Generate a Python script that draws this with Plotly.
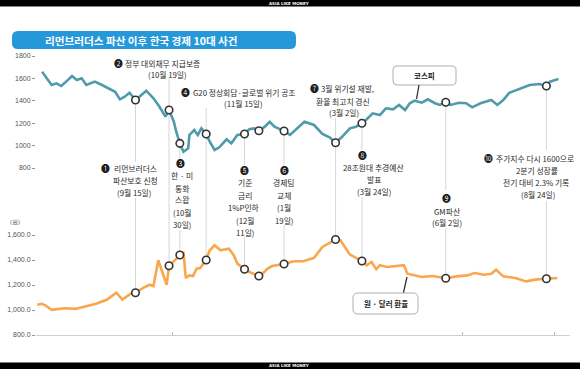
import plotly.graph_objects as go
import pandas as pd

W, H = 580, 369

# ---------------- data ----------------
kospi_dates = [
    "2008-06-29", "2008-07-07", "2008-07-11", "2008-07-15", "2008-07-20", "2008-07-24",
    "2008-07-28", "2008-08-01", "2008-08-05", "2008-08-12", "2008-08-18", "2008-08-24",
    "2008-08-29", "2008-09-02", "2008-09-06", "2008-09-10", "2008-09-15", "2008-09-19",
    "2008-09-24", "2008-09-30", "2008-10-05", "2008-10-10", "2008-10-13", "2008-10-17",
    "2008-10-19", "2008-10-22", "2008-10-25", "2008-10-29", "2008-10-30", "2008-11-03",
    "2008-11-06", "2008-11-09", "2008-11-13", "2008-11-16", "2008-11-20", "2008-11-24",
    "2008-11-30", "2008-12-04", "2008-12-09", "2008-12-15", "2008-12-19", "2008-12-23",
    "2008-12-27", "2009-01-01", "2009-01-05", "2009-01-09", "2009-01-17", "2009-01-22",
    "2009-01-29", "2009-02-03", "2009-02-11", "2009-02-18", "2009-02-24", "2009-03-01",
    "2009-03-06", "2009-03-13", "2009-03-18", "2009-03-23", "2009-03-27", "2009-04-01",
    "2009-04-07", "2009-04-12", "2009-04-18", "2009-04-23", "2009-04-28", "2009-05-02",
    "2009-05-06", "2009-05-12", "2009-05-17", "2009-05-23", "2009-05-27", "2009-06-01",
    "2009-06-05", "2009-06-12", "2009-06-18", "2009-06-23", "2009-06-30", "2009-07-09",
    "2009-07-14", "2009-07-19", "2009-07-24", "2009-08-02", "2009-08-10", "2009-08-18",
    "2009-08-24", "2009-08-27", "2009-09-02", "2009-09-03",
]
kospi_values = [
    1660, 1541, 1556, 1532, 1580, 1621,
    1586, 1601, 1541, 1571, 1541, 1510,
    1481, 1413, 1437, 1472, 1407, 1443,
    1490, 1422, 1347, 1258, 1318, 1213,
    1124, 1020, 945, 976, 1095, 1139,
    1095, 1154, 1104, 1035, 961, 985,
    1056, 1021, 1095, 1104, 1146, 1154,
    1133, 1169, 1213, 1169, 1130, 1095,
    1169, 1213, 1184, 1104, 1074, 1026,
    1074, 1154, 1169, 1199, 1235, 1288,
    1273, 1333, 1324, 1363, 1318, 1378,
    1401, 1383, 1413, 1378, 1363, 1387,
    1363, 1383, 1378, 1342, 1378, 1407,
    1363, 1407, 1472, 1512, 1541, 1550,
    1532, 1571, 1592, 1586,
]

fx_dates = [
    "2008-06-25", "2008-06-29", "2008-07-02", "2008-07-07", "2008-07-18", "2008-07-27",
    "2008-08-04", "2008-08-13", "2008-08-22", "2008-08-30", "2008-09-04", "2008-09-11",
    "2008-09-15", "2008-09-21", "2008-09-27", "2008-09-30", "2008-10-04", "2008-10-08",
    "2008-10-11", "2008-10-13", "2008-10-17", "2008-10-22", "2008-10-25", "2008-10-27",
    "2008-10-30", "2008-11-02", "2008-11-05", "2008-11-08", "2008-11-13", "2008-11-16",
    "2008-11-20", "2008-11-25", "2008-12-02", "2008-12-06", "2008-12-09", "2008-12-15",
    "2008-12-19", "2008-12-27", "2008-12-30", "2009-01-03", "2009-01-07", "2009-01-17",
    "2009-01-25", "2009-02-02", "2009-02-11", "2009-02-18", "2009-02-22", "2009-03-01",
    "2009-03-05", "2009-03-09", "2009-03-13", "2009-03-23", "2009-03-27", "2009-03-31",
    "2009-04-04", "2009-04-07", "2009-04-13", "2009-04-19", "2009-04-27", "2009-04-30",
    "2009-05-06", "2009-05-12", "2009-05-21", "2009-06-01", "2009-06-10", "2009-06-19",
    "2009-06-25", "2009-07-03", "2009-07-09", "2009-07-13", "2009-07-19", "2009-07-29",
    "2009-08-07", "2009-08-16", "2009-08-24", "2009-09-02",
]
fx_values = [
    1042, 1050, 1036, 1001, 1014, 1009,
    1028, 1050, 1082, 1138, 1084, 1130,
    1138, 1175, 1202, 1191, 1398, 1290,
    1202, 1354, 1390, 1440, 1465, 1256,
    1277, 1272, 1330, 1336, 1400, 1478,
    1518, 1478, 1491, 1438, 1371, 1326,
    1304, 1272, 1290, 1330, 1352, 1368,
    1390, 1390, 1417, 1505, 1524, 1564,
    1558, 1497, 1443, 1392, 1358, 1384,
    1326, 1358, 1344, 1350, 1358, 1290,
    1277, 1264, 1272, 1254, 1269, 1277,
    1296, 1282, 1290, 1322, 1269, 1256,
    1229, 1245, 1250, 1256,
]

# marked points (shown as open circles)
event_dates = ["2008-09-15", "2008-10-13", "2008-10-22", "2008-11-13", "2008-12-15",
               "2008-12-27", "2009-01-17", "2009-03-01", "2009-03-23", "2009-06-01",
               "2009-08-24"]
event_kospi = [1407, 1318, 1020, 1104, 1104, 1133, 1130, 1026, 1199, 1387, 1532]
event_fx = [1138, 1354, 1440, 1400, 1326, 1272, 1368, 1564, 1392, 1254, 1250]

kospi_tickvals = [800, 1000, 1200, 1400, 1600, 1800]
kospi_ticktext = ["800", "1000", "1200", "1400", "1600", "1800"]
fx_tickvals = [800, 1000, 1200, 1400, 1600]
fx_ticktext = ["800.0", "1,000.0", "1,200.0", "1,400.0", "1,600.0"]
x_tickvals = ["2008-10-16", "2009-06-15", "2009-08-31"]

title_text = "리먼브러더스 파산 이후 한국 경제 10대 사건"

# ---------------- layout helpers ----------------
FONT = "Noto Sans CJK KR"
TICKFONT = "Liberation Sans Narrow, Liberation Sans, Arial"

base = pd.Timestamp("2008-09-15")
ppd = 1.198           # pixels per day
xpix_base = 135.5
x_left, x_right = 36, 570
x0 = base + pd.Timedelta(days=(x_left - xpix_base) / ppd)
x1 = base + pd.Timedelta(days=(x_right - xpix_base) / ppd)

top_range = [700, 1850]
top_dom = [1 - 179.2 / H, 1 - 50.4 / H]
bot_range = [800, 1650]
bot_dom = [1 - 335 / H, 1 - 228.75 / H]


def py(p):
    return 1 - p / H


def px(p):
    return p / W


def top_paper(v):
    return top_dom[0] + (v - top_range[0]) / (top_range[1] - top_range[0]) * (top_dom[1] - top_dom[0])


def bot_paper(v):
    return bot_dom[0] + (v - bot_range[0]) / (bot_range[1] - bot_range[0]) * (bot_dom[1] - bot_dom[0])


def rrect(xa, ya, xb, yb, r):
    def P(x, y):
        return f"{px(x):.5f},{py(y):.5f}"
    return (f"M{P(xa + r, ya)} L{P(xb - r, ya)} Q{P(xb, ya)} {P(xb, ya + r)} "
            f"L{P(xb, yb - r)} Q{P(xb, yb)} {P(xb - r, yb)} L{P(xa + r, yb)} "
            f"Q{P(xa, yb)} {P(xa, yb - r)} L{P(xa, ya + r)} Q{P(xa, ya)} {P(xa + r, ya)} Z")


def ann(text, x, y, size=7.8, color="#2a2a2a", xanchor="center", family=FONT):
    return dict(text=text, x=px(x), y=py(y), xref="paper", yref="paper",
                showarrow=False, xanchor=xanchor, yanchor="middle", borderpad=0,
                font=dict(family=family, size=size, color=color))


def num(text, x, y):
    return ann(text, x, y, size=8.8, color="#1e1e1e")


fig = go.Figure()

fig.add_trace(go.Scatter(x=kospi_dates, y=kospi_values, mode="lines",
                         line=dict(color="#4f9bab", width=2.6), xaxis="x", yaxis="y",
                         hoverinfo="skip"))
fig.add_trace(go.Scatter(x=fx_dates, y=fx_values, mode="lines",
                         line=dict(color="#f9a64c", width=2.6), xaxis="x", yaxis="y2",
                         hoverinfo="skip"))
marker_style = dict(size=7.5, color="white", line=dict(color="#333", width=1.6))
fig.add_trace(go.Scatter(x=event_dates, y=event_kospi, mode="markers",
                         marker=marker_style, xaxis="x", yaxis="y", hoverinfo="skip"))
fig.add_trace(go.Scatter(x=event_dates, y=event_fx, mode="markers",
                         marker=marker_style, xaxis="x", yaxis="y2", hoverinfo="skip"))

shapes = []
# black bars
shapes.append(dict(type="rect", xref="paper", yref="paper", x0=0, x1=1, y0=py(6.5), y1=1,
                   fillcolor="black", line=dict(width=0), layer="above"))
shapes.append(dict(type="rect", xref="paper", yref="paper", x0=0, x1=1, y0=0, y1=py(362.5),
                   fillcolor="black", line=dict(width=0), layer="above"))
# title bar
shapes.append(dict(type="path", xref="paper", yref="paper", path=rrect(12, 31, 296, 49, 6),
                   fillcolor="#2598da", line=dict(width=0), layer="below"))

# event leader lines
segs = [
    (0, [("k", 162), (198, "f")]),
    (1, [(78, "f")]),
    (2, [("k", 159), (230, "f")]),
    (3, [(108, "f")]),
    (4, [("k", 165), (237, "f")]),
    (6, [("k", 165), (225, "f")]),
    (7, [(118, "f")]),
    (8, [("k", 150), (197, "f")]),
    (9, [("k", 190), (228, "f")]),
    (10, [("k", 150), (201, "f")]),
]


def endpoint(e, i):
    if e == "k":
        return top_paper(event_kospi[i])
    if e == "f":
        return bot_paper(event_fx[i])
    return py(e)


for i, lst in segs:
    for a, b in lst:
        shapes.append(dict(type="line", xref="x", yref="paper", x0=event_dates[i], x1=event_dates[i],
                           y0=endpoint(a, i), y1=endpoint(b, i),
                           line=dict(color="#c6c6c6", width=0.7), layer="below"))

# series name boxes
shapes.append(dict(type="path", xref="paper", yref="paper", path=rrect(393, 66, 456, 85, 4),
                   fillcolor="white", line=dict(color="#9a9a9a", width=0.8)))
shapes.append(dict(type="line", xref="paper", yref="paper", x0=px(419), x1=px(416.5),
                   y0=py(85), y1=py(99), line=dict(color="#333", width=1.3)))
shapes.append(dict(type="path", xref="paper", yref="paper", path=rrect(353, 293, 418, 314, 5),
                   fillcolor="white", line=dict(color="#9a9a9a", width=0.8)))
shapes.append(dict(type="line", xref="paper", yref="paper", x0=px(403.5), x1=px(407),
                   y0=py(292.5), y1=py(277), line=dict(color="#333", width=1.3)))

annotations = [
    ann("<b>" + title_text + "</b>", 141.5, 40, size=10.6, color="white"),
    ann("<b>ASIA LIKE MONEY</b>", 289, 3.3, size=4, color="white", family="DejaVu Sans"),
    ann("<b>ASIA LIKE MONEY</b>", 289, 365.8, size=4, color="white", family="DejaVu Sans"),
    ann("<b>코스피</b>", 424.5, 75.5, size=7.5, color="#222"),
    ann("<b>원 · 달러 환율</b>", 385.5, 303.5, size=7.5, color="#222"),
    ann("(원)", 15, 222, size=6, color="#555", family=TICKFONT),
    # 1
    num("❶", 105.5, 168),
    ann("리먼브러더스", 135.5, 168), ann("파산보호 신청", 135, 180), ann("(9월 15일)", 134, 192),
    # 2
    num("❷", 118.5, 63),
    ann("정부 대외채무 지급보증", 124, 63, xanchor="left"), ann("(10월 19일)", 167, 74),
    # 3
    num("❸", 180.5, 163.5),
    ann("한 · 미", 181.5, 176), ann("통화", 181.5, 188), ann("스왑", 181.5, 200),
    ann("(10월", 181.5, 212), ann("30일)", 181.5, 224),
    # 4
    num("❹", 186, 92.5),
    ann("G20 정상회담·글로벌 위기 공조", 191.5, 92.5, xanchor="left"), ann("(11월 15일)", 243, 103.5),
    # 5
    num("❺", 244, 170.5),
    ann("기준", 244.5, 183), ann("금리", 244.5, 195), ann("1%P인하", 243.5, 208),
    ann("(12월", 244.5, 220), ann("11일)", 244.5, 232),
    # 6
    num("❻", 284, 170.5),
    ann("경제팀", 284, 183), ann("교체", 284, 195), ann("(1월", 284, 208), ann("19일)", 284, 220),
    # 7
    num("❼", 314, 89),
    ann("3월 위기설 재발,", 319.5, 89, xanchor="left"), ann("환율 최고치 경신", 342.5, 101),
    ann("(3월 2일)", 344, 112.5),
    # 8
    num("❽", 362, 155.5),
    ann("28조원대 추경예산", 373.5, 167.5), ann("발표", 373.5, 179.5), ann("(3월 24일)", 374, 191.5),
    # 9
    num("❾", 446.5, 198),
    ann("GM파산", 446.5, 211.5), ann("(6월 2일)", 446.5, 223),
    # 10
    num("❿", 488, 158.5),
    ann("주가지수 다시 1600으로", 494.5, 158.5, xanchor="left"), ann("2분기 성장률", 537, 170.5),
    ann("전기 대비 2.3% 기록", 501.5, 182.5, xanchor="left"), ann("(8월 24일)", 537.5, 194.5),
]

fig.update_layout(
    width=W, height=H,
    margin=dict(l=0, r=0, t=0, b=0),
    paper_bgcolor="white", plot_bgcolor="white",
    showlegend=False,
    hovermode=False,
    xaxis=dict(type="date", domain=[x_left / W, x_right / W], range=[x0, x1], anchor="y2",
               showline=True, linecolor="#cfcfcf", linewidth=1, ticks="inside", ticklen=3,
               tickcolor="#bbbbbb", tickvals=x_tickvals, showticklabels=False,
               showgrid=False, zeroline=False, fixedrange=True),
    yaxis=dict(domain=top_dom, range=top_range, anchor="x", tickvals=kospi_tickvals,
               ticktext=kospi_ticktext, ticks="outside", ticklen=3, tickcolor="#999",
               tickfont=dict(family=TICKFONT, size=7, color="#555"), showline=False,
               showgrid=False, zeroline=False, automargin=False, fixedrange=True),
    yaxis2=dict(domain=bot_dom, range=bot_range, anchor="x", tickvals=fx_tickvals,
                ticktext=fx_ticktext, ticks="outside", ticklen=3, tickcolor="#999",
                tickfont=dict(family=TICKFONT, size=7, color="#555"), showline=False,
                showgrid=False, zeroline=False, automargin=False, fixedrange=True),
    shapes=shapes,
    annotations=annotations,
)

fig.write_html("out.html", config={"displayModeBar": False, "staticPlot": True},
               post_script="document.body.style.margin='0px';")
